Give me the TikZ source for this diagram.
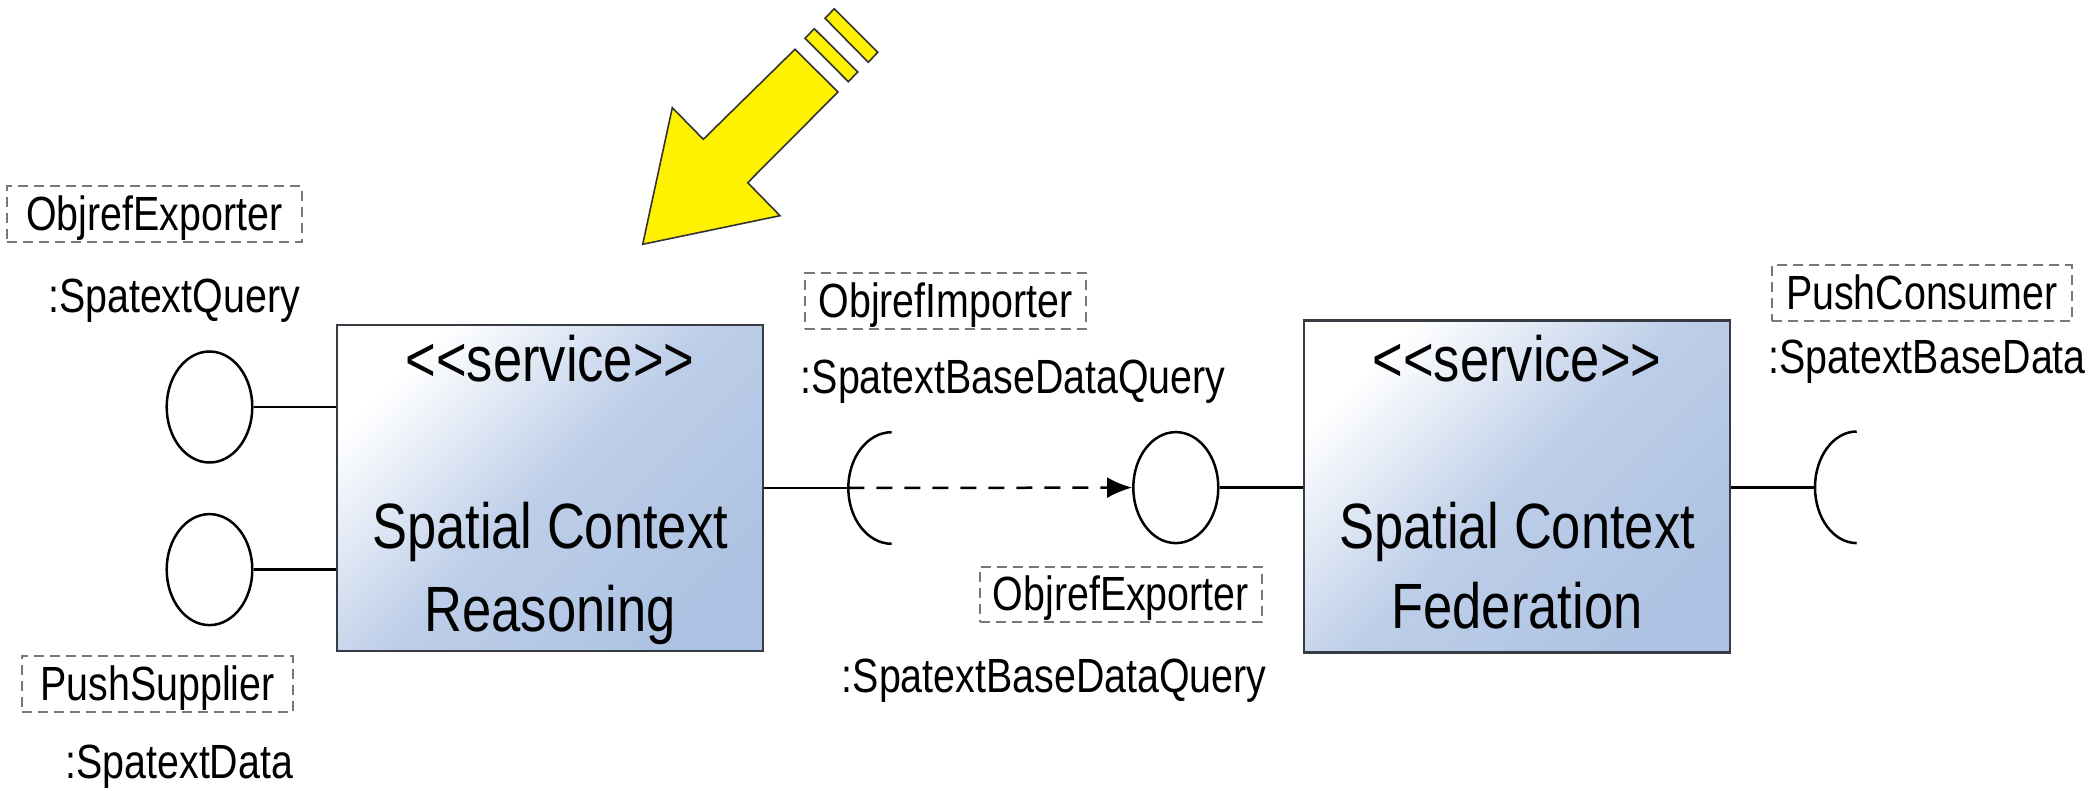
\documentclass[tikz,border=0pt]{standalone}
\usepackage{fontspec}
\usetikzlibrary{shapes.geometric,arrows.meta}
\newfontfamily\nfont[FakeStretch=0.82,Ligatures=TeXOff]{Liberation Sans}
\definecolor{boxblue}{RGB}{174,195,227}
\definecolor{boxedge}{RGB}{55,60,68}
\definecolor{dashgray}{RGB}{120,120,120}
\tikzset{
  lbl/.style={font=\nfont\fontsize{48}{58}\selectfont, inner sep=0pt},
  dlbl/.style={lbl, draw=dashgray, line width=2pt, dash pattern=on 10pt off 6pt,
    text height=38pt, text depth=5pt, minimum height=55.5pt},
  servicebox/.style={draw=boxedge, line width=2.5pt, inner sep=0pt,
    top color=white, bottom color=boxblue, middle color=boxblue!82, shading angle=45},
  boxtxt/.style={font=\nfont\fontsize{64}{80}\selectfont, inner sep=0pt, anchor=base},
  ball/.style={ellipse, draw, line width=2.5pt, inner sep=0pt},
  conn/.style={line width=2.5pt},
  sockarc/.style={line width=2.5pt},
  warn/.style={fill=yellow, draw=black!80, line width=1.6pt, line join=miter}
}
\begin{document}
\begin{tikzpicture}[x=1pt,y=-1pt]
\useasboundingbox (0,0) rectangle (2096,791);

% yellow arrow
\draw[warn] (642.7,244.3) -- (780,215.7) -- (747.7,182.7) -- (838,92) -- (795,49.3)
  -- (703.3,139.3) -- (672.3,107.7) -- cycle;
\draw[warn] (805,38.3) -- (814.3,28.7) -- (857.7,72) -- (848.3,81.7) -- cycle;
\draw[warn] (825,18.3) -- (834.3,8.7) -- (877.7,52.3) -- (868.3,62.3) -- cycle;

% service boxes
\node[servicebox, minimum width=426pt, minimum height=326pt] (r) at (550,488) {};
\node[boxtxt] (rst) at (550,381.7) {<<service>>};
\node[boxtxt] (rn1) at (550,548.3) {Spatial Context};
\node[boxtxt] (rn2) at (550,631.7) {Reasoning};

\node[servicebox, minimum width=426pt, minimum height=332pt] (f) at (1517,486.7) {};
\node[boxtxt] (fst) at (1517,381.7) {<<service>>};
\node[boxtxt] (fn1) at (1517,548.3) {Spatial Context};
\node[boxtxt] (fn2) at (1517,628.3) {Federation};

% left provided interfaces
\node[ball, minimum width=85.6pt, minimum height=111pt] (ca) at (209.5,407) {};
\node[ball, minimum width=85.6pt, minimum height=111pt] (cb) at (209.5,569.6) {};
\draw[conn] (ca.east) -- (ca.east -| r.west);
\draw[conn] (cb.east) -- (cb.east -| r.west);

% middle: required socket, dependency, provided ball
\coordinate (sa) at (848.3,488);
\draw[sockarc] (sa) ++(43.4,55.8) arc[start angle=270, end angle=90, x radius=43.4pt, y radius=55.8pt];
\draw[conn] (r.east) -- (sa);
\node[ball, minimum width=85pt, minimum height=111pt] (cc) at (1175.8,487.6) {};
\draw[line width=2.5pt, dash pattern=on 16pt off 12pt, -{Latex[length=25pt,width=21pt]}] (sa) -- (cc.west);
\draw[conn] (cc.east) -- (cc.east -| f.west);

% right socket
\coordinate (sb) at (1815,487.3);
\draw[sockarc] (sb) ++(41.7,55.8) arc[start angle=270, end angle=90, x radius=41.7pt, y radius=55.8pt];
\draw[conn] (f.east |- sb) -- (sb);

% labels
\node[dlbl, minimum width=295pt] (l1) at (154.2,214.2) {ObjrefExporter};
\node[lbl, anchor=base east] (l1n) at (300,313) {:SpatextQuery};
\node[dlbl, minimum width=271.6pt] (l2) at (157.5,683.8) {PushSupplier};
\node[lbl, anchor=base east] (l2n) at (293.3,778) {:SpatextData};
\node[dlbl, minimum width=281pt] (l3) at (945.5,301.2) {ObjrefImporter};
\node[lbl, anchor=base west] (l3n) at (800.7,394) {:SpatextBaseDataQuery};
\node[dlbl, minimum width=281.7pt] (l4) at (1120.8,594.3) {ObjrefExporter};
\node[lbl, anchor=base west] (l4n) at (841.7,692) {:SpatextBaseDataQuery};
\node[dlbl, minimum width=300pt] (l5) at (1921.7,292.8) {PushConsumer};
\node[lbl, anchor=base west] (l5n) at (1768.3,373.3) {:SpatextBaseData};
\end{tikzpicture}
\end{document}
